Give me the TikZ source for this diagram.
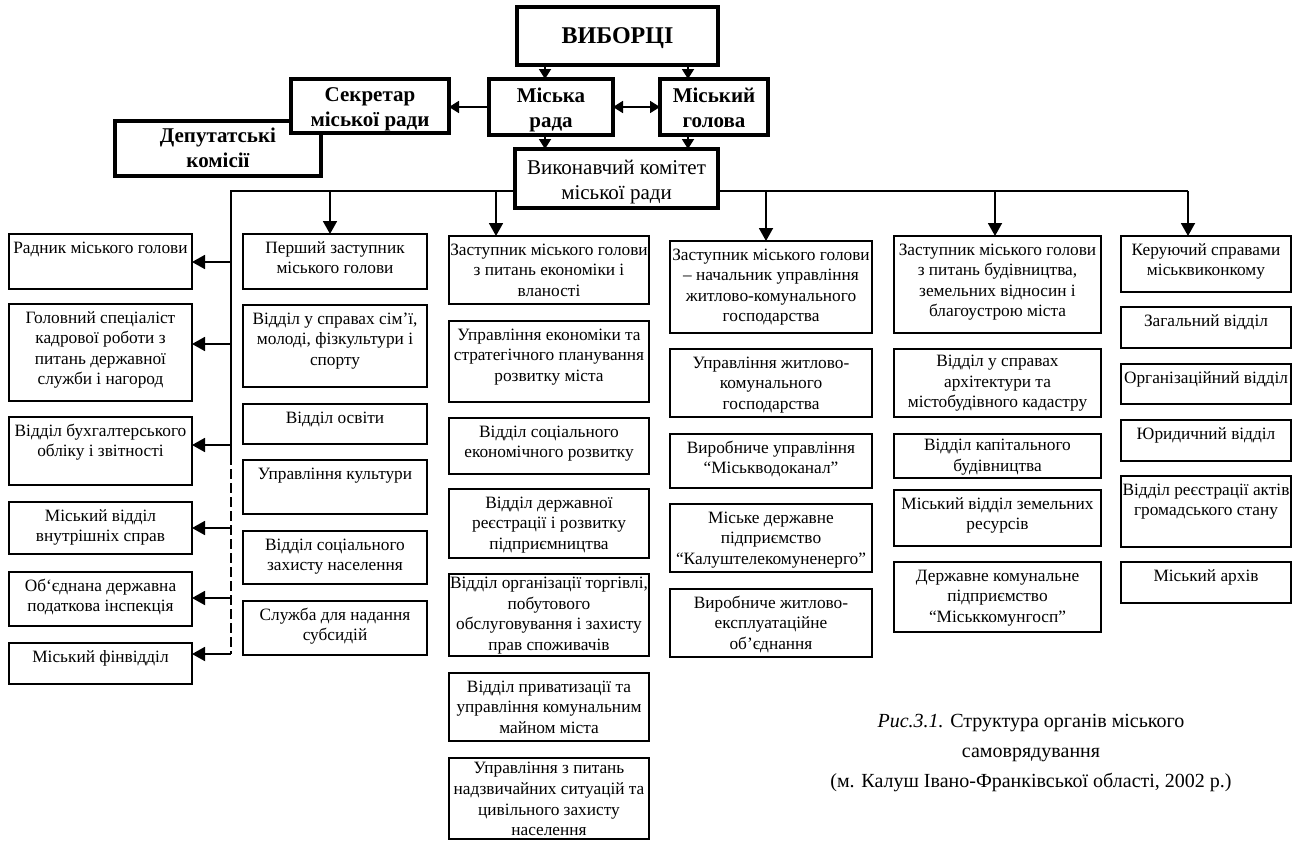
\documentclass[tikz,border=0pt]{standalone}
\usepackage{fontspec}
\setmainfont{Liberation Serif}
\usetikzlibrary{arrows.meta}
\newcommand\bx[7][4.6pt]{%
  \node[boxst, anchor=north west] (#2) at (#3,#4)
   {\parbox[c][#6pt][t]{#5pt}{\vspace*{#1}\makebox[\linewidth]{\begin{tabular}[t]{@{}c@{}}#7\end{tabular}}}};}
\newcommand\tb[2]{\raisebox{-#1pt}[\height][\depth]{\begin{tabular}{@{}c@{}}#2\end{tabular}}}
\tikzset{
  boxst/.style={draw, line width=1.6pt, fill=white, inner sep=0pt, outer sep=0pt,
    font=\fontsize{17.3}{20.6}\selectfont},
  topbox/.style={draw, line width=4.5pt, fill=white, inner sep=0pt, outer sep=0pt,
    font=\bfseries\fontsize{21}{25}\selectfont},
  ln/.style={line width=1.8pt},
  arr/.style={line width=1.8pt, -{Triangle[length=13pt,width=14pt]}},
  tarr/.style={line width=1.8pt, -{Triangle[length=10pt,width=12pt]}},
  darr/.style={line width=1.8pt, {Triangle[length=10pt,width=12pt]}-{Triangle[length=10pt,width=12pt]}},
}
\begin{document}
\begin{tikzpicture}[x=1pt,y=-1pt]
\useasboundingbox (0,0) rectangle (1293,841);
% top part
\node[topbox, minimum width=201pt, minimum height=58pt, font=\bfseries\fontsize{24}{28}\selectfont] (vyb) at (617.5,36) {\tb{2}{ВИБОРЦІ}};
\node[topbox, minimum width=124pt, minimum height=56pt] (mr) at (551,107) {\tb{2.5}{Міська\\рада}};
\node[topbox, minimum width=108pt, minimum height=56pt] (mg) at (714,107) {\tb{2.5}{Міський\\голова}};
\node[topbox, minimum width=206pt, minimum height=55pt] (dep) at (218,148.5) {\tb{1.5}{Депутатські\\комісії}};
\node[topbox, minimum width=158pt, minimum height=54pt] (sek) at (370,106) {\tb{2.5}{Секретар\\міської ради}};
\node[topbox, minimum width=203pt, minimum height=59pt, font=\fontsize{21}{25}\selectfont] (vik) at (616.5,178.5) {\tb{3}{Виконавчий комітет\\міської ради}};
\coordinate (a1) at (545,0);
\coordinate (a2) at (688,0);
\draw[tarr] (vyb.south -| a1) -- (mr.north -| a1);
\draw[tarr] (vyb.south -| a2) -- (mg.north -| a2);
\draw[tarr] (mr.south -| a1) -- (vik.north -| a1);
\draw[tarr] (mg.south -| a2) -- (vik.north -| a2);
\draw[darr] (mr.east) -- (mg.west);
\draw[tarr] (mr.west) -- (mr.west -| sek.east);
% left column
\bx{l1}{9}{234}{183}{55}{Радник міського голови}
\bx{l2}{9}{304}{183}{97}{Головний спеціаліст\\кадрової роботи з\\питань державної\\служби і нагород}
\bx{l3}{9}{417}{183}{68}{Відділ бухгалтерського\\обліку і звітності}
\bx{l4}{9}{502}{183}{52}{Міський відділ\\внутрішніх справ}
\bx{l5}{9}{572}{183}{54}{Об`єднана державна\\податкова інспекція}
\bx{l6}{9}{643}{183}{41}{Міський фінвідділ}
% column 1
\bx{c1a}{243}{234}{184}{55}{Перший заступник\\міського голови}
\bx{c1b}{243}{305}{184}{82}{Відділ у справах сім’ї,\\молоді, фізкультури і\\спорту}
\bx{c1c}{243}{404}{184}{40}{Відділ освіти}
\bx{c1d}{243}{460}{184}{54}{Управління культури}
\bx{c1e}{243}{531}{184}{53}{Відділ соціального\\захисту населення}
\bx{c1f}{243}{601}{184}{54}{Служба для надання\\субсидій}
% column 2
\bx{c2a}{449}{236}{200}{68}{Заступник міського голови\\з питань економіки і\\вланості}
\bx{c2b}{449}{321}{200}{81}{Управління економіки та\\стратегічного планування\\розвитку міста}
\bx{c2c}{449}{418}{200}{56}{Відділ соціального\\економічного розвитку}
\bx{c2d}{449}{489}{200}{69}{Відділ державної\\реєстрації і розвитку\\підприємництва}
\bx[0pt]{c2e}{449}{574}{200}{82}{Відділ організації торгівлі,\\побутового\\обслуговування і захисту\\прав споживачів}
\bx{c2f}{449}{673}{200}{68}{Відділ приватизації та\\управління комунальним\\майном міста}
\bx[1.5pt]{c2g}{449}{758}{200}{81}{Управління з питань\\надзвичайних ситуацій та\\цивільного захисту\\населення}
% column 3
\bx{c3a}{670}{241}{202}{92}{Заступник міського голови\\– начальник управління\\житлово-комунального\\господарства}
\bx{c3b}{670}{349}{202}{68}{Управління житлово-\\комунального\\господарства}
\bx{c3c}{670}{434}{202}{54}{Виробниче управління\\“Міськводоканал”}
\bx{c3d}{670}{504}{202}{68}{Міське державне\\підприємство\\“Калуштелекомуненерго”}
\bx{c3e}{670}{589}{202}{68}{Виробниче житлово-\\експлуатаційне\\об’єднання}
% column 4
\bx{c4a}{894}{236}{207}{97}{Заступник міського голови\\з питань будівництва,\\земельних відносин і\\благоустрою міста}
\bx[3pt]{c4b}{894}{349}{207}{68}{Відділ у справах\\архітектури та\\містобудівного кадастру}
\bx[2.5pt]{c4c}{894}{434}{207}{44}{Відділ капітального\\будівництва}
\bx{c4d}{894}{490}{207}{56}{Міський відділ земельних\\ресурсів}
\bx{c4e}{894}{562}{207}{70}{Державне комунальне\\підприємство\\“Міськкомунгосп”}
% column 5
\bx{c5a}{1121}{236}{170}{56}{Керуючий справами\\міськвиконкому}
\bx{c5b}{1121}{307}{170}{41}{Загальний відділ}
\bx{c5c}{1121}{364}{170}{40}{Організаційний відділ}
\bx{c5d}{1121}{420}{170}{41}{Юридичний відділ}
\bx{c5e}{1121}{476}{170}{71}{Відділ реєстрації актів\\громадського стану}
\bx{c5f}{1121}{562}{170}{41}{Міський архів}
% bus
\coordinate (busL) at (231,191);
\coordinate (busR) at (1188,191);
\coordinate (lsol) at (231,455);
\coordinate (lend) at (231,654);
\draw[ln] (vik.west |- busL) -- (busL) -- (lsol);
\draw[ln, dash pattern=on 10pt off 4pt] (lsol) -- (lend);
\draw[ln] (vik.east |- busR) -- (busR);
\coordinate (k1) at (330,191);
\coordinate (k2) at (496,191);
\coordinate (k3) at (766,191);
\coordinate (k4) at (995,191);
\draw[arr] (k1) -- (k1 |- c1a.north);
\draw[arr] (k2) -- (k2 |- c2a.north);
\draw[arr] (k3) -- (k3 |- c3a.north);
\draw[arr] (k4) -- (k4 |- c4a.north);
\draw[arr] (busR) -- (busR |- c5a.north);
\coordinate (m1) at (231,262);
\coordinate (m2) at (231,344);
\coordinate (m3) at (231,445);
\coordinate (m4) at (231,528);
\coordinate (m5) at (231,598);
\draw[arr] (m1) -- (m1 -| l1.east);
\draw[arr] (m2) -- (m2 -| l2.east);
\draw[arr] (m3) -- (m3 -| l3.east);
\draw[arr] (m4) -- (m4 -| l4.east);
\draw[arr] (m5) -- (m5 -| l5.east);
\draw[arr] (lend) -- (lend -| l6.east);
% caption
\node[font=\fontsize{20}{30}\selectfont, align=center] (cap) at (1031,753)
  {\textit{Рис.3.1.} Структура органів міського\\самоврядування\\(м. Калуш Івано-Франківської області, 2002 р.)};
\end{tikzpicture}
\end{document}
